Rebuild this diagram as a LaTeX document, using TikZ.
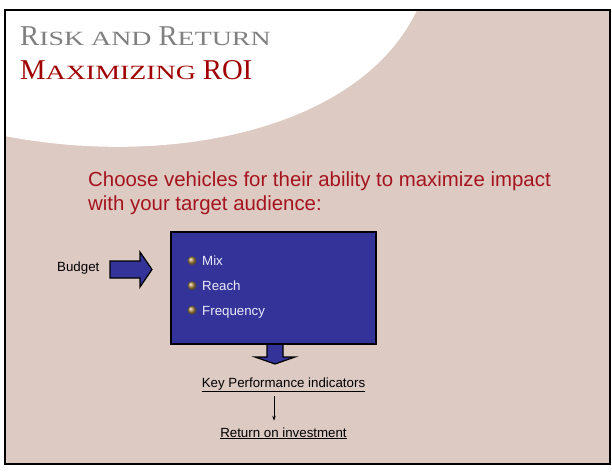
\documentclass[tikz,border=0pt]{standalone}
\usepackage{fontspec}
\usepackage{graphicx}
\setmainfont{Liberation Sans}
\newfontfamily\titleserif{Liberation Serif}
\usetikzlibrary{arrows.meta,calc}

\definecolor{slidebg}{RGB}{221,202,195}
\definecolor{titlegrey}{RGB}{128,128,128}
\definecolor{titlered}{RGB}{160,0,0}
\definecolor{bodyred}{RGB}{165,20,30}
\definecolor{panelblue}{RGB}{51,51,153}
\definecolor{paneltext}{RGB}{235,235,250}
\definecolor{bronze}{RGB}{175,135,75}

% hand-made small capitals: smaller upper case, widened
\newcommand{\fakesc}[1]{\scalebox{1.38}[1]{\fontsize{20.2}{21}\selectfont #1}}

\begin{document}
\begin{tikzpicture}[x=1pt,y=-1pt,
  titletext/.style={anchor=base west, inner sep=0, font=\titleserif\fontsize{28.7}{30}\selectfont},
  leadtext/.style={anchor=base west, inner sep=0, text=bodyred, font=\fontsize{20.4}{23}\selectfont},
  itemtext/.style={anchor=base west, inner sep=0, text=paneltext, font=\fontsize{13.3}{15}\selectfont},
  plaintext/.style={inner sep=0, font=\fontsize{13.3}{15}\selectfont},
  blockarrow/.style={fill=panelblue, draw=black, line width=1.2pt, line join=miter},
  bulletball/.style={ball color=bronze, draw=black!70, line width=0.5pt}
]
\useasboundingbox (0,0) rectangle (612,473);
\fill[white] (0,0) rectangle (612,473);

% slide background with the white sweep at the top left
\fill[slidebg] (4.5,10) rectangle (610,463.5);
\fill[white] (4.5,10) -- (417,10) .. controls (360,130) and (170,168) .. (4.5,136) -- cycle;
\draw[black, line width=2pt] (4.5,10) rectangle (610,463.5);

% title
\node[titletext, text=titlegrey] (title) at (20,46) {R\fakesc{ISK AND }R\fakesc{ETURN}};
\node[titletext, text=titlered] (subtitle) at (20,79.5) {M\fakesc{AXIMIZING }ROI};

% lead text
\node[leadtext] (lead1) at (88,186.7) {Choose vehicles for their ability to maximize impact};
\node[leadtext] (lead2) at (88,210) {with your target audience:};

% input label and block arrow
\node[plaintext, anchor=base west] (budget) at (57,271.7) {Budget};
\filldraw[blockarrow] (110,261) -- (140,261) -- (140,252) -- (152,269.5)
  -- (140,287) -- (140,278) -- (110,278) -- cycle;

% output block arrow below the panel
\filldraw[blockarrow] (267,343) -- (283,343) -- (283,357) -- (295,357)
  -- (275,364) -- (255,357) -- (267,357) -- cycle;

% central panel
\node[draw=black, line width=1.5pt, fill=panelblue, minimum width=205pt,
  minimum height=112pt, inner sep=0] (panel) at (273.5,288) {};

\shadedraw[bulletball] (192,260.7) circle (4.3);
\shadedraw[bulletball] (192,285.7) circle (4.3);
\shadedraw[bulletball] (192,310.2) circle (4.3);
\node[itemtext] (mix) at (202,265.7) {Mix};
\node[itemtext] (reach) at (202,290.7) {Reach};
\node[itemtext] (freq) at (202,315.2) {Frequency};

% results chain
\node[plaintext, anchor=base] (kpi) at (283.5,387) {\underline{Key Performance indicators}};
\node[plaintext, anchor=base] (roi) at (283.5,437) {\underline{Return on investment}};
\draw[line width=0.6pt, -{Stealth[length=5pt,width=3.5pt]}]
  ($(kpi.south)+(-9.5,4)$) -- ($(roi.north)+(-9.5,-6.5)$);
\end{tikzpicture}
\end{document}
